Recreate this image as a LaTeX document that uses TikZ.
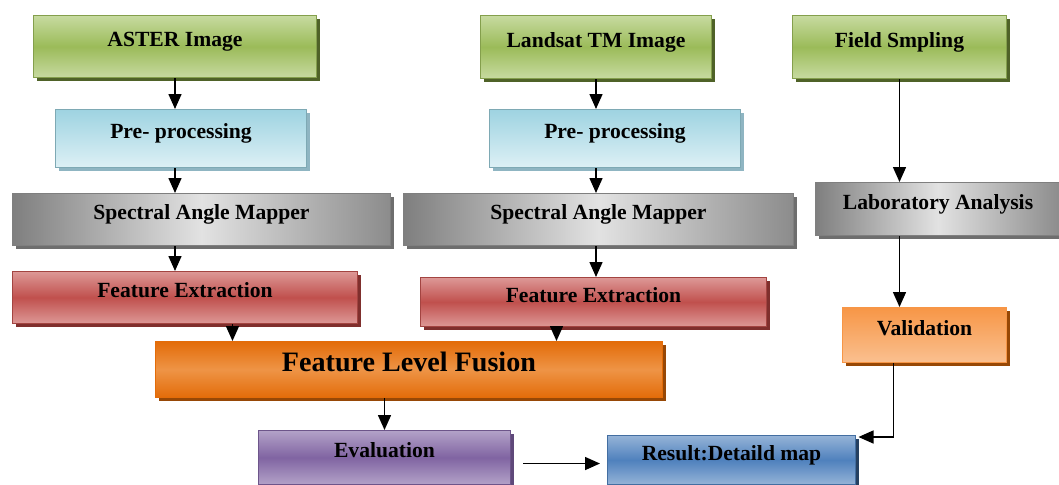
\documentclass[tikz,border=0pt]{standalone}
\usepackage{fontspec}
\setmainfont{Liberation Serif}
\usepackage{tikz}
\usepackage{xcolor}
\usetikzlibrary{calc,shadows,arrows.meta}
\definecolor{greena}{HTML}{9BBB59}
\definecolor{greenb}{HTML}{C7DAA0}
\definecolor{greens}{HTML}{4F6228}
\definecolor{cyana}{HTML}{9ED3E1}
\definecolor{cyanb}{HTML}{DDF0F5}
\definecolor{cyans}{HTML}{8FB5C2}
\definecolor{graya}{HTML}{7F7F7F}
\definecolor{grayb}{HTML}{E2E2E2}
\definecolor{grays}{HTML}{6E6E6E}
\definecolor{reda}{HTML}{C0504D}
\definecolor{redb}{HTML}{DD9896}
\definecolor{reds}{HTML}{7F2F2D}
\definecolor{orangea}{HTML}{E36C09}
\definecolor{orangeb}{HTML}{EE9446}
\definecolor{oranges}{HTML}{974806}
\definecolor{lorangea}{HTML}{F79646}
\definecolor{lorangeb}{HTML}{FAC090}
\definecolor{purplea}{HTML}{8064A2}
\definecolor{purpleb}{HTML}{B3A2C8}
\definecolor{purples}{HTML}{5F497A}
\definecolor{bluea}{HTML}{4F81BD}
\definecolor{blueb}{HTML}{95B3D7}
\definecolor{blues}{HTML}{254061}
\tikzstyle{stage} = [
    rectangle,
    anchor=north west,
    font=\fontsize{12.3}{14}\selectfont\bfseries,
    line width=0.6pt,
    inner sep=2pt,
    text depth=0.3cm
    ]
\tikzstyle{greenbox} = [stage, draw=greena!85!black, top color=greenb, bottom color=greenb, middle color=greena,
    general shadow={fill=greens, shadow xshift=0.07cm, shadow yshift=-0.07cm}]
\tikzstyle{cyanbox} = [stage, draw=cyana!80!black, top color=cyana, bottom color=cyanb,
    general shadow={fill=cyans, shadow xshift=0.07cm, shadow yshift=-0.07cm}]
\tikzstyle{graybox} = [stage, draw=graya, left color=graya, right color=graya!90, middle color=grayb,
    general shadow={fill=grays, shadow xshift=0.07cm, shadow yshift=-0.07cm}]
\tikzstyle{redbox} = [stage, draw=reda!85!black, top color=redb, bottom color=redb, middle color=reda,
    general shadow={fill=reds, shadow xshift=0.07cm, shadow yshift=-0.07cm}]
\tikzstyle{orangebox} = [stage, draw=orangea, top color=orangea, bottom color=orangea, middle color=orangeb,
    general shadow={fill=oranges, shadow xshift=0.07cm, shadow yshift=-0.07cm}]
\tikzstyle{lorangebox} = [stage, draw=lorangea, top color=lorangea, bottom color=lorangeb,
    general shadow={fill=oranges, shadow xshift=0.07cm, shadow yshift=-0.07cm}]
\tikzstyle{purplebox} = [stage, draw=purplea!85!black, top color=purpleb, bottom color=purpleb, middle color=purplea,
    general shadow={fill=purples, shadow xshift=0.07cm, shadow yshift=-0.07cm}]
\tikzstyle{bluebox} = [stage, draw=bluea!85!black, top color=blueb, bottom color=blueb, middle color=bluea,
    general shadow={fill=blues, shadow xshift=0.07cm, shadow yshift=-0.07cm}]
\tikzstyle{flow} = [draw=black, line width=0.85pt, -{Triangle[length=3mm,width=2.6mm]}]

\begin{document}
\begin{tikzpicture}[x=0.02cm, y=-0.02cm]
\useasboundingbox (0,0) rectangle (1059,484);
% first column
\node[greenbox, minimum width=5.66cm, minimum height=1.24cm] (aster) at (33,15) {ASTER Image};
\node[cyanbox, minimum width=5.02cm, minimum height=1.16cm] (prel) at (55,109) {Pre- processing};
\node[graybox, minimum width=7.56cm, minimum height=1.04cm] (saml) at (12,193) {Spectral Angle Mapper};
\node[redbox, minimum width=6.9cm, minimum height=1.04cm] (fel) at (12,271) {Feature Extraction};
% second column
\node[greenbox, minimum width=4.62cm, minimum height=1.26cm] (landsat) at (480,15) {Landsat TM Image};
\node[cyanbox, minimum width=5.02cm, minimum height=1.16cm] (prer) at (489,109) {Pre- processing};
\node[graybox, minimum width=7.8cm, minimum height=1.04cm] (samr) at (403,193) {Spectral Angle Mapper};
\node[redbox, minimum width=6.92cm, minimum height=0.98cm] (fer) at (420,277) {Feature Extraction};
% third column
\node[greenbox, minimum width=4.28cm, minimum height=1.26cm] (field) at (792,15) {Field Smpling};
\node[graybox, minimum width=4.9cm, minimum height=1.06cm] (lab) at (815,182) {Laboratory Analysis};
\node[lorangebox, minimum width=3.28cm, minimum height=1.1cm] (val) at (842,307) {Validation};
% fusion and result
\node[orangebox, minimum width=10.14cm, minimum height=1.12cm, font=\fontsize{16}{18}\selectfont\bfseries] (flf) at (155,341) {Feature Level Fusion};
\node[purplebox, minimum width=5.04cm, minimum height=1.08cm] (eval) at (258,430) {Evaluation};
\node[bluebox, minimum width=4.96cm, minimum height=0.98cm] (result) at (607,435) {Result:Detaild map};

\draw[flow] (aster.south) -- (aster.south |- prel.north);
\draw[flow] (prel.south -| aster.south) -- (saml.north -| aster.south);
\draw[flow] (saml.south -| aster.south) -- (fel.north -| aster.south);
\draw[flow] ([xshift=0.95cm]fel.south) -- ([xshift=0.95cm]fel.south |- flf.north);
\draw[flow] (landsat.south) -- (landsat.south |- prer.north);
\draw[flow] (prer.south -| landsat.south) -- (samr.north -| landsat.south);
\draw[flow] (samr.south -| landsat.south) -- (fer.north -| landsat.south);
\draw[flow] ([xshift=-0.74cm]fer.south) -- ([xshift=-0.74cm]fer.south |- flf.north);
\draw[flow] (flf.south -| eval.north) -- (eval.north);
\draw[flow] (field.south) -- (field.south |- lab.north);
\draw[flow] (lab.south -| field.south) -- (val.north -| field.south);
\draw[flow] ([xshift=-0.62cm]val.south) |- ([xshift=0.05cm,yshift=-0.04cm]result.north east);
\draw[flow] ([xshift=0.24cm,yshift=-0.12cm]eval.east) -- ([xshift=-0.14cm,yshift=-0.12cm]eval.east -| result.west);
\end{tikzpicture}
\end{document}
